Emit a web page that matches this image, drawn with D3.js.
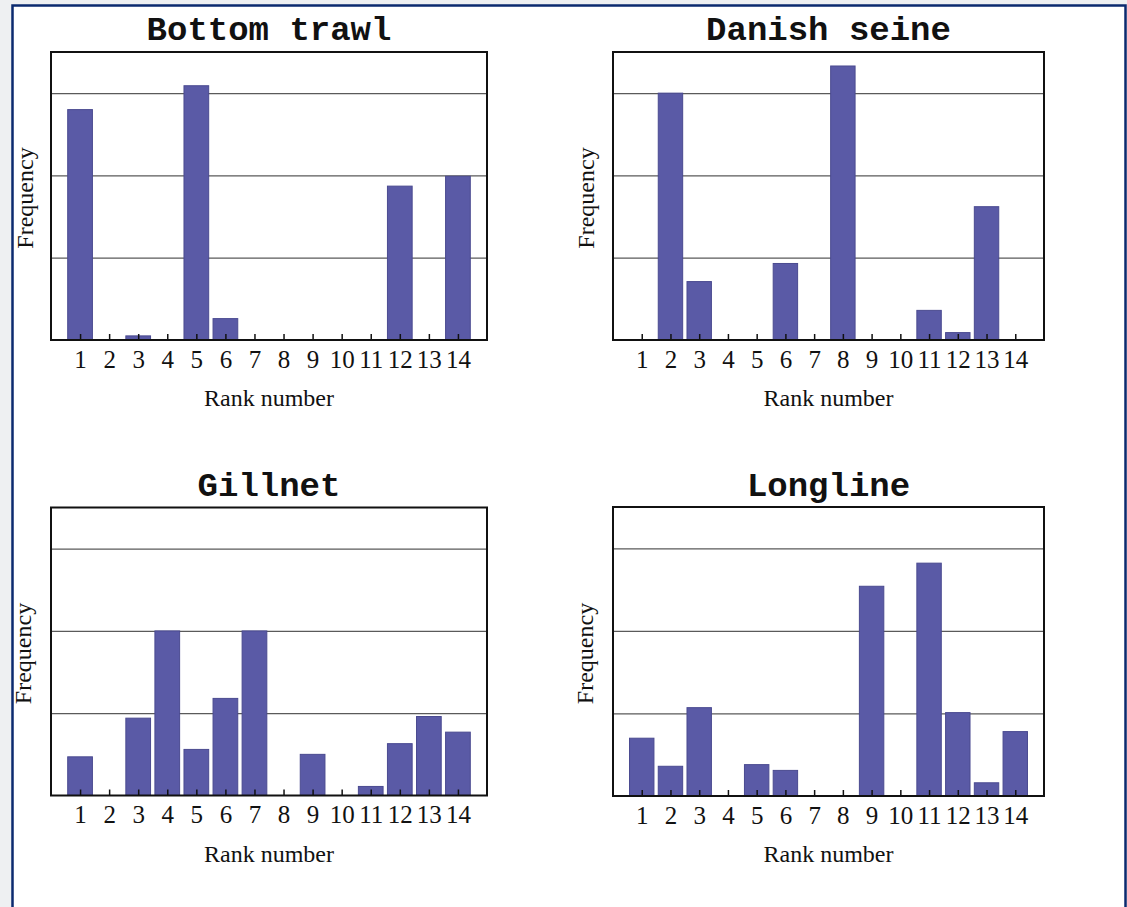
<!DOCTYPE html>
<html>
<head>
<meta charset="utf-8">
<script src="https://cdn.jsdelivr.net/npm/d3@7"></script>
<style>
  html, body { margin: 0; padding: 0; background: #eef0f2; }
  svg { display: block; }
</style>
</head>
<body>
<svg id="chart" width="1127" height="907"></svg>
<script>
// ---- data ----
const ranks = [1,2,3,4,5,6,7,8,9,10,11,12,13,14];
const panelTitles = ["Bottom trawl", "Danish seine", "Gillnet", "Longline"];
const bottomTrawl = [2.80, 0, 0.05, 0, 3.09, 0.26, 0, 0, 0, 0, 0, 1.87, 0, 1.99];
const danishSeine = [0, 3.00, 0.71, 0, 0, 0.93, 0, 3.33, 0, 0, 0.36, 0.09, 1.62, 0];
const gillnet     = [0.47, 0, 0.94, 2.00, 0.56, 1.18, 2.00, 0, 0.50, 0, 0.11, 0.63, 0.96, 0.77];
const longline    = [0.70, 0.36, 1.07, 0, 0.38, 0.31, 0, 0, 2.54, 0, 2.82, 1.01, 0.16, 0.78];
const gridValues  = [1, 2, 3];
const yMax = 3.5;
const xLabel = "Rank number";
const yLabel = "Frequency";

const seriesList = [bottomTrawl, danishSeine, gillnet, longline];

// ---- layout ----
const svg = d3.select("#chart");
// page frame
svg.append("rect")
  .attr("x", 12.5).attr("y", 5.5).attr("width", 1113).attr("height", 930)
  .attr("fill", "#ffffff").attr("stroke", "#0b2a6f").attr("stroke-width", 2.5);

const panels = [
  {left: 51,  top: 52,  w: 436, h: 288, titleY: 40,  labelX: 33,  rankY: 406},
  {left: 613, top: 52,  w: 431, h: 288, titleY: 40,  labelX: 594, rankY: 406},
  {left: 51,  top: 507.5, w: 436, h: 288, titleY: 496, labelX: 31,  rankY: 862},
  {left: 613, top: 507, w: 431, h: 289, titleY: 496, labelX: 593, rankY: 862}
];

panels.forEach((p, i) => {
  const values = seriesList[i];
  const g = svg.append("g");
  const x = d3.scaleLinear().domain([0, ranks.length + 1]).range([p.left, p.left + p.w]);
  const y = d3.scaleLinear().domain([0, yMax]).range([p.top + p.h, p.top]);
  const step = x(1) - x(0);
  const bw = step * 0.85;

  // gridlines
  g.append("g")
    .attr("transform", `translate(${p.left},0)`)
    .call(d3.axisLeft(y).tickValues(gridValues).tickSize(-p.w).tickFormat(""))
    .call(s => s.select(".domain").remove())
    .call(s => s.selectAll("line").attr("stroke", "#5a5a5a").attr("stroke-width", 1.2));

  // bars
  g.selectAll("rect.bar").data(ranks.map((r, j) => ({r, v: values[j]})).filter(d => d.v > 0))
    .enter().append("rect")
    .attr("class", "bar")
    .attr("x", d => x(d.r) - bw / 2)
    .attr("width", bw)
    .attr("y", d => y(d.v))
    .attr("height", d => y(0) - y(d.v))
    .attr("fill", "#5a5aa6")
    .attr("stroke", "#4a4a90")
    .attr("stroke-width", 1);

  // x axis ticks (inward) and labels
  const ax = g.append("g")
    .attr("transform", `translate(0,${p.top + p.h})`)
    .call(d3.axisBottom(x).tickValues(ranks).tickSizeInner(-6).tickSizeOuter(0).tickPadding(10).tickFormat(d3.format("d")));
  ax.select(".domain").remove();
  ax.selectAll("line").attr("stroke", "#111").attr("stroke-width", 1.5);
  ax.selectAll("text")
    .attr("font-family", "'Liberation Serif', 'Times New Roman', serif")
    .attr("font-size", 25).attr("fill", "#111");

  // frame
  g.append("rect")
    .attr("x", p.left).attr("y", p.top).attr("width", p.w).attr("height", p.h)
    .attr("fill", "none").attr("stroke", "#111").attr("stroke-width", 2);

  // title
  g.append("text")
    .attr("x", p.left + p.w / 2).attr("y", p.titleY)
    .attr("text-anchor", "middle")
    .attr("font-family", "'Liberation Mono', 'Courier New', monospace")
    .attr("font-weight", "bold").attr("font-size", 34).attr("fill", "#111")
    .text(panelTitles[i]);

  // x label
  g.append("text")
    .attr("x", p.left + p.w / 2).attr("y", p.rankY)
    .attr("text-anchor", "middle")
    .attr("font-family", "'Liberation Serif', 'Times New Roman', serif")
    .attr("font-size", 24).attr("fill", "#111")
    .text(xLabel);

  // y label
  g.append("text")
    .attr("transform", `translate(${p.labelX},${p.top + p.h / 2 + 2}) rotate(-90)`)
    .attr("text-anchor", "middle")
    .attr("font-family", "'Liberation Serif', 'Times New Roman', serif")
    .attr("font-size", 24).attr("fill", "#111")
    .text(yLabel);
});
</script>
</body>
</html>
